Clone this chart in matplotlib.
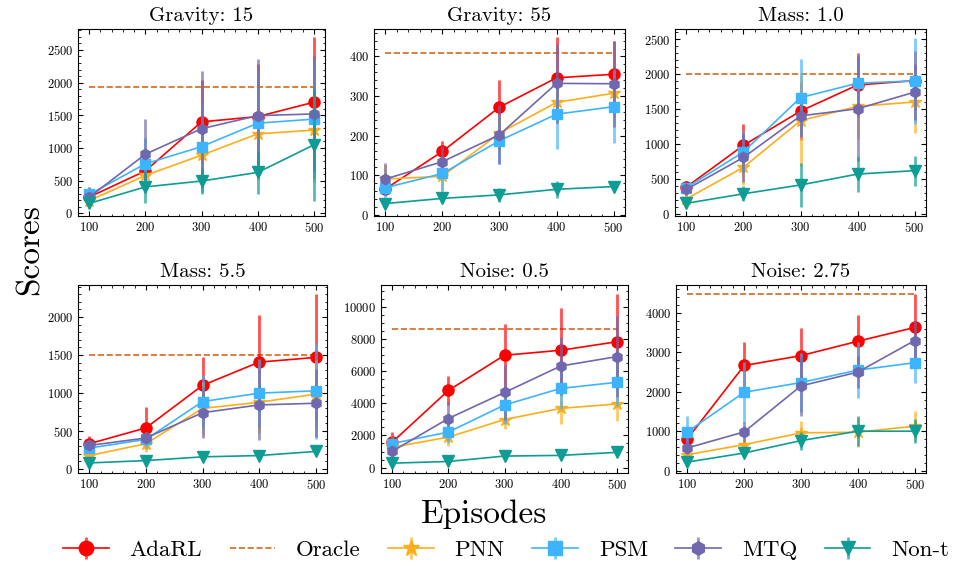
import numpy as np
import matplotlib
matplotlib.use('Agg')
import matplotlib.pyplot as plt

plt.rcParams['font.family'] = ['cmr10', 'DejaVu Serif']
plt.rcParams['mathtext.fontset'] = 'cm'
plt.rcParams['axes.formatter.use_mathtext'] = True

episodes = [100, 200, 300, 400, 500]
titles = ['Gravity: 15', 'Gravity: 55', 'Mass: 1.0', 'Mass: 5.5', 'Noise: 0.5', 'Noise: 2.75']
methods = ['AdaRL', 'PNN', 'PSM', 'MTQ', 'Non-t']

# oracle level per panel
oracle = [1930, 409, 2000, 1500, 8630, 4470]

# mean scores and error bars, one row per panel
adarl_mean = [[250, 650, 1400, 1480, 1700],
              [65, 160, 272, 346, 355],
              [384, 980, 1470, 1843, 1905],
              [333, 541, 1100, 1406, 1468],
              [1580, 4800, 6990, 7300, 7830],
              [810, 2670, 2920, 3285, 3634]]
adarl_err = [[160, 300, 640, 800, 990],
             [15, 27, 69, 102, 85],
             [90, 300, 420, 460, 420],
             [100, 280, 370, 626, 840],
             [630, 880, 1960, 2650, 3000],
             [150, 590, 700, 670, 860]]

pnn_mean = [[195, 580, 890, 1216, 1274],
            [90, 97, 206, 284, 307],
            [214, 666, 1333, 1537, 1600],
            [177, 333, 798, 878, 985],
            [1263, 1895, 2990, 3684, 3958],
            [409, 664, 962, 979, 1132]]
pnn_err = [[80, 200, 500, 700, 800],
           [35, 45, 45, 55, 60],
           [60, 250, 650, 470, 450],
           [60, 110, 350, 400, 450],
           [400, 550, 600, 1000, 1050],
           [90, 160, 300, 380, 380]]

psm_mean = [[290, 758, 1021, 1379, 1442],
            [68, 104, 187, 254, 273],
            [375, 885, 1663, 1868, 1902],
            [275, 390, 887, 998, 1029],
            [1495, 2210, 3895, 4926, 5305],
            [987, 1991, 2238, 2553, 2740]]
psm_err = [[120, 400, 700, 800, 900],
           [30, 45, 60, 89, 91],
           [70, 300, 555, 400, 620],
           [70, 100, 350, 450, 630],
           [500, 700, 1200, 1300, 1500],
           [400, 770, 750, 700, 520]]

mtq_mean = [[247, 905, 1295, 1495, 1521],
            [90, 134, 202, 332, 331],
            [350, 807, 1401, 1503, 1741],
            [310, 408, 741, 843, 865],
            [1010, 3053, 4674, 6316, 6905],
            [579, 987, 2153, 2502, 3302]]
mtq_err = [[100, 540, 880, 870, 880],
           [41, 40, 75, 100, 109],
           [80, 350, 300, 750, 400],
           [60, 80, 333, 466, 450],
           [400, 1000, 1700, 1800, 2500],
           [150, 250, 770, 400, 500]]

nont_mean = [[153, 405, 495, 626, 1047],
             [28, 41, 50, 64, 71],
             [151, 287, 413, 569, 618],
             [80, 111, 160, 177, 231],
             [274, 379, 716, 758, 947],
             [221, 451, 766, 1004, 1004]]
nont_err = [[60, 240, 200, 330, 850],
            [10, 12, 18, 22, 15],
            [60, 110, 320, 250, 215],
            [20, 20, 25, 25, 30],
            [80, 100, 120, 120, 150],
            [60, 80, 230, 380, 300]]

means = [adarl_mean, pnn_mean, psm_mean, mtq_mean, nont_mean]
errs = [adarl_err, pnn_err, psm_err, mtq_err, nont_err]
colors = ['#FF0000', '#FFAE1A', '#3DB4FF', '#6F68AE', '#0E9C94']
markers = ['o', '*', 's', 'h', 'v']
msizes = [8, 9, 7.5, 7.5, 8]
oracle_color = '#D2691E'

fig = plt.figure(figsize=(9.56, 5.69), dpi=100)
W, H = 956, 569
boxes = [(78, 29, 325, 216), (374, 29, 625, 216), (675, 29, 926, 216),
         (78, 285, 327, 473), (381, 285, 628, 473), (676, 285, 926, 473)]

handles = {}
for i, (x0, y0, x1, y1) in enumerate(boxes):
    ax = fig.add_axes([x0 / W, 1 - y1 / H, (x1 - x0) / W, (y1 - y0) / H])
    for m in range(len(methods)):
        h = ax.errorbar(episodes, means[m][i], yerr=errs[m][i], color=colors[m],
                        marker=markers[m], markersize=msizes[m], linewidth=1.2,
                        elinewidth=2, ecolor=colors[m] + 'B0', capsize=0, zorder=3 + m * 0.1)
        handles.setdefault(methods[m], h)
    h = ax.hlines(oracle[i], episodes[0], episodes[-1], colors=oracle_color,
                  linestyles='--', linewidth=1.2, zorder=2)
    handles.setdefault('Oracle', h)
    ax.set_title(titles[i], fontsize=15)
    ax.set_xticks(episodes)
    ax.minorticks_on()
    ax.tick_params(which='both', direction='in', top=True, right=True, labelsize=9)
    ax.tick_params(which='major', length=3.5)
    ax.tick_params(which='minor', length=1.8)

fig.text(30 / W, 1 - 250 / H, 'Scores', rotation=90, fontsize=24, ha='center', va='center')
fig.text(484 / W, 1 - 514 / H, 'Episodes', fontsize=24, ha='center', va='center')

order = ['AdaRL', 'Oracle', 'PNN', 'PSM', 'MTQ', 'Non-t']
fig.legend([handles[k] for k in order], order, loc='center',
           bbox_to_anchor=(506 / W, 1 - 550 / H), ncol=6, frameon=False,
           fontsize=16.5, handlelength=2.0, columnspacing=1.2, handletextpad=0.9,
           markerscale=1.3)

fig.savefig('out.png', dpi=100)
